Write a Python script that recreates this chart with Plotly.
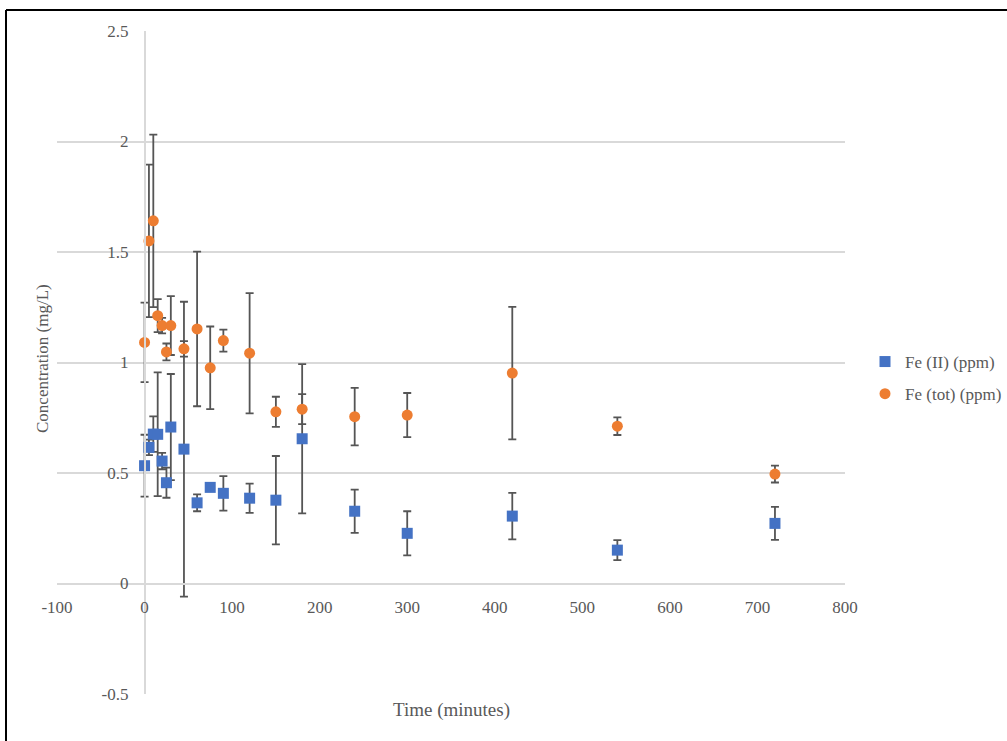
import plotly.graph_objects as go

# ---- data ----
time_min = [0, 5, 10, 15, 20, 25, 30, 45, 60, 75, 90, 120, 150, 180, 240, 300, 420, 540, 720]

fe2_ppm = [0.533, 0.616, 0.676, 0.675, 0.554, 0.456, 0.708, 0.608, 0.365, 0.435, 0.408,
           0.386, 0.377, 0.655, 0.327, 0.227, 0.305, 0.151, 0.272]
fe2_err = [0.140, 0.035, 0.080, 0.280, 0.037, 0.068, 0.240, 0.667, 0.038, 0.015, 0.078,
           0.066, 0.200, 0.338, 0.098, 0.100, 0.105, 0.045, 0.075]

fetot_ppm = [1.091, 1.550, 1.641, 1.212, 1.167, 1.048, 1.167, 1.062, 1.152, 0.976, 1.099,
             1.042, 0.777, 0.789, 0.755, 0.762, 0.952, 0.712, 0.495]
fetot_err = [0.180, 0.345, 0.390, 0.075, 0.035, 0.038, 0.133, 0.035, 0.350, 0.187, 0.050,
             0.272, 0.068, 0.068, 0.130, 0.100, 0.300, 0.040, 0.038]

x_ticks = [-100, 0, 100, 200, 300, 400, 500, 600, 700, 800]
x_tick_text = ["-100", "0", "100", "200", "300", "400", "500", "600", "700", "800"]
y_ticks = [-0.5, 0, 0.5, 1, 1.5, 2, 2.5]
y_tick_text = ["-0.5", "0", "0.5", "1", "1.5", "2", "2.5"]

series_names = ["Fe (II) (ppm)", "Fe (tot) (ppm)"]
x_title = "Time (minutes)"
y_title = "Concentration (mg/L)"

# ---- layout geometry ----
W, H = 1007, 741
L, R, T, B = 57, 162, 31, 47
PW, PH = W - L - R, H - T - B

def px_to_paper_x(px):
    return (px - L) / PW

def px_to_paper_y(py):
    return (H - B - py) / PH

FONT = "Liberation Serif, Times New Roman, serif"
TXT = "#595959"
ERR = "#555555"

fig = go.Figure()
fig.add_trace(go.Scatter(
    x=time_min, y=fe2_ppm, mode="markers", name=series_names[0], legendgroup="a",
    marker=dict(symbol="square", size=11, color="#4472C4"),
    error_y=dict(type="data", array=fe2_err, visible=True, color=ERR, thickness=1.8, width=4),
))
fig.add_trace(go.Scatter(
    x=time_min, y=fetot_ppm, mode="markers", name=series_names[1], legendgroup="b",
    marker=dict(symbol="circle", size=11, color="#ED7D31"),
    error_y=dict(type="data", array=fetot_err, visible=True, color=ERR, thickness=1.8, width=4),
))

xr = [-100, 800]
yr = [-0.5, 2.5]

fig.update_layout(
    width=W, height=H,
    margin=dict(l=L, r=R, t=T, b=B, pad=0, autoexpand=False),
    paper_bgcolor="white", plot_bgcolor="white",
    font=dict(family=FONT, size=17, color=TXT),
    xaxis=dict(
        range=xr, tickvals=x_ticks, ticktext=x_tick_text, showgrid=False, zeroline=False,
        showline=True, linecolor="#d9d9d9", linewidth=1.5,
        anchor="free", position=(0 - yr[0]) / (yr[1] - yr[0]),
        ticks="", ticklabelstandoff=8, tickfont=dict(size=17, color=TXT, family=FONT),
    ),
    yaxis=dict(
        range=yr, tickvals=y_ticks, ticktext=y_tick_text, showgrid=True,
        gridcolor="#d9d9d9", gridwidth=1.5, zeroline=False,
        showline=True, linecolor="#d9d9d9", linewidth=1.5,
        anchor="free", position=(0 - xr[0]) / (xr[1] - xr[0]),
        ticks="", ticklabelstandoff=12, tickfont=dict(size=17, color=TXT, family=FONT),
    ),
    showlegend=True,
    legend=dict(
        x=px_to_paper_x(865), y=px_to_paper_y(378), xanchor="left", yanchor="middle",
        font=dict(size=17, color=TXT, family=FONT), bgcolor="rgba(0,0,0,0)",
        tracegroupgap=7, traceorder="grouped", itemwidth=30,
    ),
    annotations=[
        dict(text=x_title, xref="paper", yref="paper", x=0.5, y=px_to_paper_y(710),
             xanchor="center", yanchor="middle", showarrow=False,
             font=dict(size=19, color=TXT, family=FONT)),
        dict(text=y_title, xref="paper", yref="paper", x=px_to_paper_x(42), y=px_to_paper_y(359),
             xanchor="center", yanchor="middle", showarrow=False, textangle=-90,
             font=dict(size=17, color=TXT, family=FONT)),
    ],
    shapes=[
        dict(type="line", xref="paper", yref="paper",
             x0=px_to_paper_x(6), x1=px_to_paper_x(1010), y0=px_to_paper_y(10), y1=px_to_paper_y(10),
             line=dict(color="black", width=2)),
        dict(type="line", xref="paper", yref="paper",
             x0=px_to_paper_x(6), x1=px_to_paper_x(6), y0=px_to_paper_y(10), y1=px_to_paper_y(745),
             line=dict(color="black", width=2)),
    ],
)

fig.write_html("out.html")
